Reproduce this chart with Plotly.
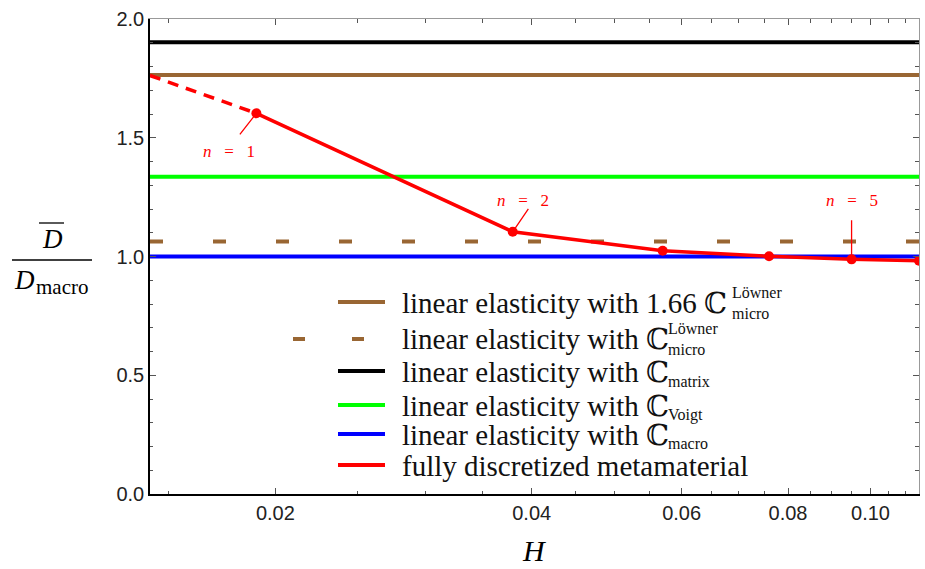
import math
import plotly.graph_objects as go

# ---- data -------------------------------------------------------------
n_labels = [1, 2, 3, 4, 5, 6]
H_n = [0.019, 0.038, 0.057, 0.076, 0.095, 0.114]
D_ratio = [1.603, 1.104, 1.024, 1.001, 0.988, 0.982]

# extrapolation towards small H (dashed)
H_extra = [0.01425, 0.019]
D_extra = [1.762, 1.603]

# homogenised reference levels
level_matrix = 1.902
level_loewner = 1.063
level_loewner_166 = 1.66 * level_loewner
level_voigt = 1.336
level_macro = 1.0

x_range = [0.01425, 0.114]
y_range = [0.0, 2.0]

x_major = [0.02, 0.04, 0.06, 0.08, 0.10]
x_major_text = ["0.02", "0.04", "0.06", "0.08", "0.10"]
x_minor = [0.015, 0.025, 0.03, 0.035, 0.045, 0.05, 0.055, 0.065, 0.07,
           0.075, 0.085, 0.09, 0.095, 0.105, 0.11]
y_major = [0.0, 0.5, 1.0, 1.5, 2.0]
y_minor = [v / 10 for v in range(0, 21)]

BROWN = "#996633"
GREEN = "#00ff00"
BLUE = "#0000ff"
RED = "#ff0000"
BLACK = "#000000"

SERIF = "Liberation Serif, DejaVu Serif, serif"
SANS = "Liberation Sans, Arial, sans-serif"

W, H = 925, 569
ML, MR, MT, MB = 150, 6, 19, 75
PW, PH = W - ML - MR, H - MT - MB


def px(x):
    return (x - ML) / PW


def py(y):
    return (H - MB - y) / PH


fig = go.Figure()

# horizontal reference levels
for lvl, col, dash in [
    (level_matrix, BLACK, "solid"),
    (level_loewner_166, BROWN, "solid"),
    (level_voigt, GREEN, "solid"),
    (level_loewner, BROWN, "13px,50px"),
    (level_macro, BLUE, "solid"),
]:
    fig.add_trace(go.Scatter(x=x_range, y=[lvl, lvl], mode="lines",
                             line=dict(color=col, width=4, dash=dash),
                             showlegend=False, hoverinfo="skip"))

# metamaterial results
fig.add_trace(go.Scatter(x=H_extra, y=D_extra, mode="lines",
                         line=dict(color=RED, width=3.5, dash="11px,8px"),
                         showlegend=False, hoverinfo="skip"))
fig.add_trace(go.Scatter(x=H_n, y=D_ratio, mode="lines+markers",
                         line=dict(color=RED, width=3.5),
                         marker=dict(color=RED, size=10),
                         cliponaxis=True, showlegend=False))

# dummy trace for the mirrored (top / right) frame axes
fig.add_trace(go.Scatter(x=[0.05], y=[1.0], xaxis="x2", yaxis="y2",
                         mode="markers", marker=dict(opacity=0),
                         showlegend=False, hoverinfo="skip"))

tick_font = dict(family=SANS, size=20, color="#222222")
common_x = dict(type="log", range=[math.log10(x_range[0]), math.log10(x_range[1])],
                tickmode="array", tickvals=x_major, ticks="inside", ticklen=6,
                tickwidth=1, tickcolor="#555555", showgrid=False, zeroline=False,
                minor=dict(tickmode="array", tickvals=x_minor, ticks="inside",
                           ticklen=3.5, tickcolor="#555555", showgrid=False))
common_y = dict(range=y_range, tickmode="array", tickvals=y_major, ticks="inside",
                ticklen=6, tickwidth=1, tickcolor="#555555", showgrid=False,
                zeroline=False,
                minor=dict(tickmode="array", tickvals=y_minor, ticks="inside",
                           ticklen=3.5, tickcolor="#555555", showgrid=False))

fig.update_layout(
    width=W, height=H,
    margin=dict(l=ML, r=MR, t=MT, b=MB),
    paper_bgcolor="white", plot_bgcolor="white",
    xaxis=dict(**common_x, ticktext=x_major_text, showline=True, linecolor=BLACK,
               linewidth=1.5, tickfont=tick_font),
    yaxis=dict(**common_y, tickformat=".1f", showline=True, linecolor=BLACK,
               linewidth=1.5, tickfont=tick_font),
    xaxis2=dict(**common_x, overlaying="x", side="top", anchor="y2",
                showticklabels=False, showline=True, linecolor="#999999",
                linewidth=1.2),
    yaxis2=dict(**common_y, overlaying="y", side="right", anchor="x2",
                showticklabels=False, showline=True, linecolor="#999999",
                linewidth=1.2),
    showlegend=False,
)

# ---- callouts for the number of cells -----------------------------------
NB = "\u00a0" * 3
callouts = [
    # index, label shift (x, y up), arrow tail offset (ax, ay), standoff
    (0, (-27, -38), (-18, 23), 3),
    (1, (10, 31), (17, -25), 3),
    (4, (0, 59), (0, -41), 0),
]
for idx, (sx, sy), (ax, ay), so in callouts:
    xv, yv = math.log10(H_n[idx]), D_ratio[idx]
    fig.add_annotation(x=xv, y=yv, xref="x", yref="y",
                       xanchor="center", yanchor="middle",
                       text=f"<i>n</i>{NB}={NB}{n_labels[idx]}",
                       showarrow=False, xshift=sx, yshift=sy,
                       font=dict(family=SERIF, size=17, color=RED))
    fig.add_annotation(x=xv, y=yv, xref="x", yref="y", text="\u200b",
                       font=dict(size=1), showarrow=True, arrowhead=0,
                       arrowwidth=1.3, arrowcolor=RED, ax=ax, ay=ay,
                       standoff=so)

# ---- legend -------------------------------------------------------------
LEG_FONT = dict(family=SERIF, size=29, color="#111111")
SUB_FONT = dict(family=SERIF, size=16, color="#111111")
legend_rows = [
    (303, BROWN, "solid", "linear elasticity with 1.66 \u2102", "Löwner<br>micro", 730, 0),
    (339, BROWN, "dash", "linear elasticity with \u2102", "Löwner<br>micro", 666, 0),
    (372, BLACK, "solid", "linear elasticity with \u2102", "matrix", 666, 9),
    (406, GREEN, "solid", "linear elasticity with \u2102", "Voigt", 666, 9),
    (435, BLUE, "solid", "linear elasticity with \u2102", "macro", 666, 8),
    (466, RED, "solid", "fully discretized metamaterial", None, None, 0),
]
for yc, col, style, txt, sub, sub_x, sub_dy in legend_rows:
    if style == "dash":
        fig.add_shape(type="line", xref="paper", yref="paper",
                      x0=px(293), x1=px(365), y0=py(yc), y1=py(yc),
                      line=dict(color=col, width=4, dash="12px,47px"))
    else:
        fig.add_shape(type="line", xref="paper", yref="paper",
                      x0=px(338), x1=px(385), y0=py(yc - 1), y1=py(yc - 1),
                      line=dict(color=col, width=4))
    fig.add_annotation(x=px(400), y=py(yc), xref="paper", yref="paper",
                       xanchor="left", yanchor="middle", text=txt,
                       showarrow=False, font=LEG_FONT)
    if sub:
        fig.add_annotation(x=px(sub_x), y=py(yc + sub_dy), xref="paper",
                           yref="paper", xanchor="left", yanchor="middle",
                           align="left", text=sub, showarrow=False,
                           font=SUB_FONT)

# ---- axis titles --------------------------------------------------------
def label(x, y, text, size, anchor="center"):
    fig.add_annotation(x=px(x), y=py(y), xref="paper", yref="paper",
                       xanchor=anchor, yanchor="middle", text=text,
                       showarrow=False,
                       font=dict(family=SERIF, size=size, color=BLACK))


label(534, 550, "<i>H</i>", 30)
label(52, 239, "<i>D</i>", 27)
label(24, 280, "<i>D</i>", 27)
label(34, 287, "macro", 21, anchor="left")
fig.add_shape(type="line", xref="paper", yref="paper",
              x0=px(39), x1=px(64), y0=py(223), y1=py(223),
              line=dict(color=BLACK, width=1.3))
fig.add_shape(type="line", xref="paper", yref="paper",
              x0=px(12), x1=px(92), y0=py(260), y1=py(260),
              line=dict(color=BLACK, width=1.3))

fig.write_html("out.html")
